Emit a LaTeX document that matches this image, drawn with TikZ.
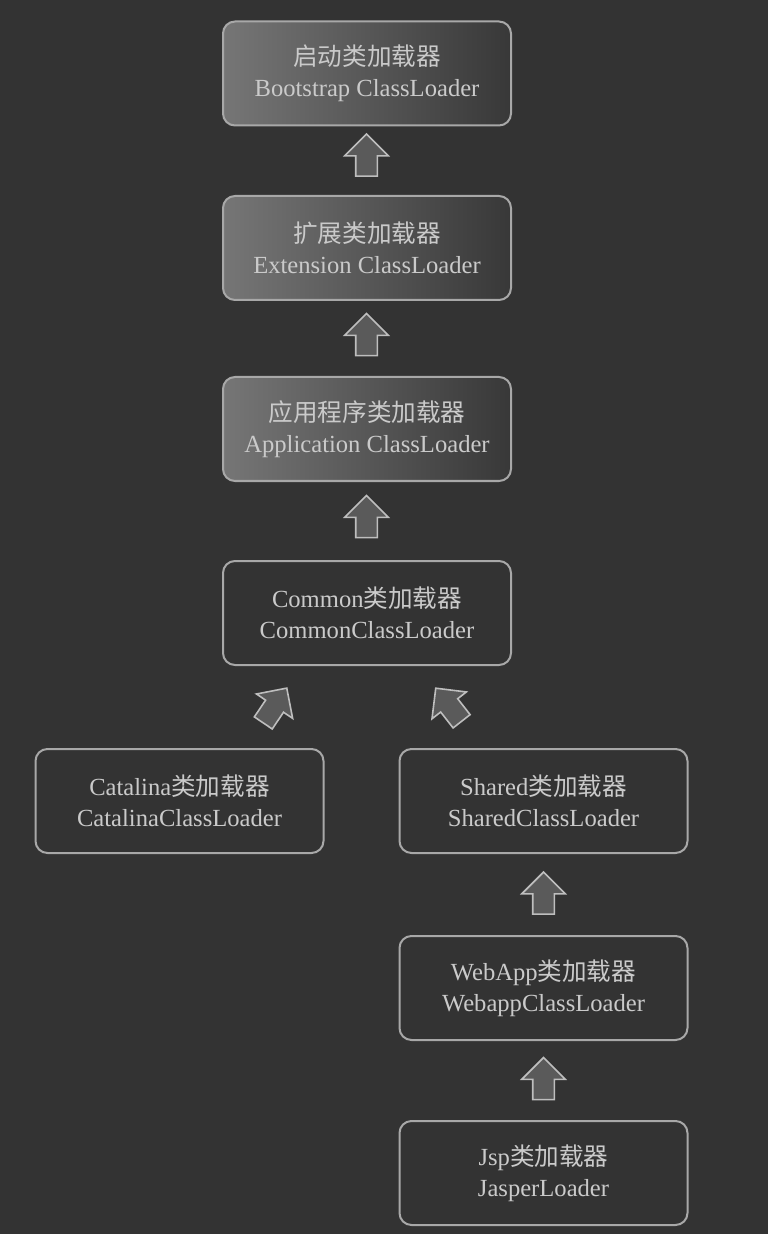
\documentclass[tikz,border=0pt]{standalone}
\usepackage{fontspec}
\setmainfont{Liberation Serif}
\newfontfamily\cjk{Noto Sans CJK SC}
\usetikzlibrary{shapes,shapes.arrows,calc,positioning}
\definecolor{bg}{HTML}{333333}
\definecolor{boxedge}{HTML}{A8A8A8}
\definecolor{txt}{HTML}{CACACA}
\definecolor{arrfill}{HTML}{5A5A5A}
\definecolor{arredge}{HTML}{BEBEBE}
\definecolor{shadeL}{HTML}{767676}
\definecolor{shadeR}{HTML}{383838}
\newcommand{\zh}[1]{{\cjk #1}}
\tikzset{loader/.style={draw=boxedge, line width=1pt, rectangle, rounded corners=6pt, minimum width=144pt, minimum height=52pt, align=center, text=txt, font=\fontsize{12.3}{15.5}\selectfont}}
\tikzstyle{sys}=[loader, left color=shadeL, right color=shadeR]
\tikzstyle{up}=[single arrow, draw=arredge, fill=arrfill, line width=0.8pt, inner sep=5pt, minimum height=21pt, minimum width=21pt, single arrow head extend=5.5pt]

\begin{document}
\begin{tikzpicture}[x=0.5pt, y=-0.5pt]
\fill[bg] (0,0) rectangle (768,1234);
\useasboundingbox (0,0) rectangle (768,1234);
% loaders
\node[sys] (boot) at (367,73.5) {\zh{启动类加载器}\\Bootstrap ClassLoader};
\node[sys] (ext) at (367,248) {\zh{扩展类加载器}\\Extension ClassLoader};
\node[sys] (app) at (367,429) {\zh{应用程序类加载器}\\Application ClassLoader};
\node[loader] (common) at (367,613) {Common\zh{类加载器}\\CommonClassLoader};
\node[loader] (catalina) at (179.5,801) {Catalina\zh{类加载器}\\CatalinaClassLoader};
\node[loader] (shared) at (543.5,801) {Shared\zh{类加载器}\\SharedClassLoader};
\node[loader] (webapp) at (543.5,988) {WebApp\zh{类加载器}\\WebappClassLoader};
\node[loader] (jsp) at (543.5,1173) {Jsp\zh{类加载器}\\JasperLoader};

% arrows
\node[up, rotate=90] (a1) at (366.5,160.5) {};
\node[up, rotate=90] (a2) at (366.5,340) {};
\node[up, rotate=90] (a3) at (366.5,522) {};
\node[up, rotate=56] (a4) at (272,710) {};
\node[up, rotate=128] (a5) at (452,709) {};
\node[up, rotate=90] (a6) at (543.5,898.5) {};
\node[up, rotate=90] (a7) at (543.5,1084) {};
\end{tikzpicture}
\end{document}
